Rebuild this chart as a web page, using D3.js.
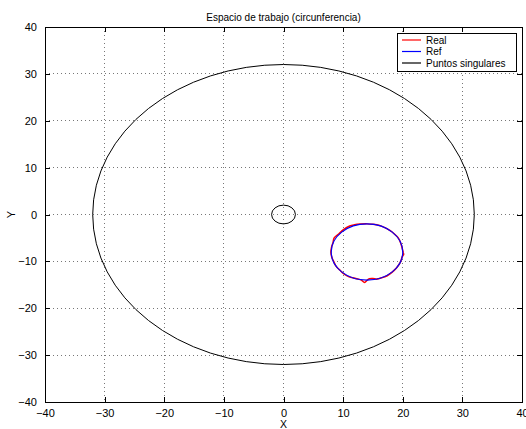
<!DOCTYPE html>
<html>
<head>
<meta charset="utf-8">
<script src="https://cdn.jsdelivr.net/npm/d3@7"></script>
<style>
  html, body { margin: 0; padding: 0; background: #fff; }
  svg { display: block; }
  text { font-family: "Liberation Sans", Arial, Helvetica, sans-serif; fill: #000; }
</style>
</head>
<body>
<svg id="chart" width="526" height="429"></svg>
<script>
// Axis ticks
const xTicks = [-40, -30, -20, -10, 0, 10, 20, 30, 40];
const yTicks = [-40, -30, -20, -10, 0, 10, 20, 30, 40];

// Measured trajectory ("Real")
const realX = [20.1, 19.85, 19.6, 19.25, 18.55, 17.9, 17.0, 16.1, 15.0, 14.0, 12.9, 11.9, 11.1, 10.0, 9.3, 8.5, 8.3, 8.05, 7.95,
               8.1, 8.45, 8.8, 9.45, 10.2, 11.0, 12.0, 13.0, 13.6, 14.0, 14.4, 15.0, 15.6, 16.05, 17.0, 17.86, 18.6, 19.2, 19.64, 19.91, 20.15, 20.1];
const realY = [-8.2, -6.9, -5.9, -5.0, -4.1, -3.45, -2.8, -2.35, -2.1, -2.0, -2.05, -2.2, -2.45, -3.3, -4.1, -5.0, -6.0, -7.0, -8.0,
               -9.1, -10.1, -11.0, -11.85, -12.75, -13.3, -13.6, -13.95, -14.5, -14.05, -13.7, -13.65, -13.8, -13.64, -13.3, -12.65, -11.86, -11.0, -10.05, -9.04, -8.5, -8.2];

// Reference trajectory ("Ref"): circle center and radius
const refCenter = [14, -8];
const refRadius = [6];

// Singular points ("Puntos singulares"): circles centred at the origin
const singCenter = [0, 0];
const singRadii = [32, 2];

const legendLabels = ["Real", "Ref", "Puntos singulares"];
const legendColors = ["#ff0000", "#0000ff", "#000000"];

const svg = d3.select("#chart");
const margin = { left: 45, top: 27, right: 4, bottom: 27 };
const W = 526, H = 429;

const x = d3.scaleLinear().domain([-40, 40]).range([margin.left, W - margin.right]);
const y = d3.scaleLinear().domain([-40, 40]).range([H - margin.bottom, margin.top]);

const fmt = d => d < 0 ? "\u2212" + Math.abs(d) : String(d);

// Dotted grid
const grid = svg.append("g");
grid.selectAll("line.gx").data(xTicks.slice(1, -1)).join("line")
  .attr("x1", d => x(d)).attr("x2", d => x(d))
  .attr("y1", y(40)).attr("y2", y(-40))
  .attr("stroke", "#777").attr("stroke-width", 1).attr("stroke-dasharray", "1,3")
  .attr("shape-rendering", "crispEdges");
grid.selectAll("line.gy").data(yTicks.slice(1, -1)).join("line")
  .attr("y1", d => y(d)).attr("y2", d => y(d))
  .attr("x1", x(-40)).attr("x2", x(40))
  .attr("stroke", "#777").attr("stroke-width", 1).attr("stroke-dasharray", "1,3")
  .attr("shape-rendering", "crispEdges");

// Axes with inward ticks on all sides
const tickLen = 5;
const axB = svg.append("g").attr("transform", `translate(0,${y(-40)})`)
  .call(d3.axisBottom(x).tickValues(xTicks).tickFormat(fmt).tickSizeInner(-tickLen).tickSizeOuter(0).tickPadding(7));
const axT = svg.append("g").attr("transform", `translate(0,${y(40)})`)
  .call(d3.axisTop(x).tickValues(xTicks).tickFormat("").tickSizeInner(-tickLen).tickSizeOuter(0));
const axL = svg.append("g").attr("transform", `translate(${x(-40)},0)`)
  .call(d3.axisLeft(y).tickValues(yTicks).tickFormat(fmt).tickSizeInner(-tickLen).tickSizeOuter(0).tickPadding(8));
const axR = svg.append("g").attr("transform", `translate(${x(40)},0)`)
  .call(d3.axisRight(y).tickValues(yTicks).tickFormat("").tickSizeInner(-tickLen).tickSizeOuter(0));
[axB, axT, axL, axR].forEach(a => {
  a.select(".domain").remove();
  a.selectAll("line").attr("stroke", "#000").attr("shape-rendering", "crispEdges");
  a.selectAll("text").attr("font-size", 11).attr("font-family", "Liberation Sans, Arial, sans-serif").attr("fill", "#000");
});

// Frame
svg.append("rect")
  .attr("x", x(-40)).attr("y", y(40))
  .attr("width", x(40) - x(-40)).attr("height", y(-40) - y(40))
  .attr("fill", "none").attr("stroke", "#000").attr("stroke-width", 1)
  .attr("shape-rendering", "crispEdges");

const plot = svg.append("g");

// Real (red)
const realPts = realX.map((v, i) => [v, realY[i]]);
plot.append("path").datum(realPts)
  .attr("d", d3.line().x(d => x(d[0])).y(d => y(d[1])).curve(d3.curveCatmullRom.alpha(0.5)))
  .attr("fill", "none").attr("stroke", legendColors[0]).attr("stroke-width", 1.5);

// Ref (blue)
plot.append("ellipse")
  .attr("cx", x(refCenter[0])).attr("cy", y(refCenter[1]))
  .attr("rx", x(refRadius[0]) - x(0)).attr("ry", y(0) - y(refRadius[0]))
  .attr("fill", "none").attr("stroke", legendColors[1]).attr("stroke-width", 1.2);

// Singular points (black)
plot.selectAll("ellipse.sing").data(singRadii).join("ellipse")
  .attr("class", "sing")
  .attr("cx", x(singCenter[0])).attr("cy", y(singCenter[1]))
  .attr("rx", r => x(r) - x(0)).attr("ry", r => y(0) - y(r))
  .attr("fill", "none").attr("stroke", legendColors[2]).attr("stroke-width", 1);

// Title and axis labels
svg.append("text").attr("x", (x(-40) + x(40)) / 2).attr("y", 21)
  .attr("text-anchor", "middle").attr("font-size", 10)
  .text("Espacio de trabajo (circunferencia)");
svg.append("text").attr("x", (x(-40) + x(40)) / 2).attr("y", 428)
  .attr("text-anchor", "middle").attr("font-size", 10.5).text("X");
svg.append("text").attr("transform", `translate(15,${y(0)}) rotate(-90)`)
  .attr("text-anchor", "middle").attr("font-size", 11).text("Y");

// Legend
const lg = svg.append("g");
lg.append("rect").attr("x", 397).attr("y", 33).attr("width", 119).attr("height", 38)
  .attr("fill", "#fff").attr("stroke", "#000").attr("stroke-width", 1)
  .attr("shape-rendering", "crispEdges");
legendLabels.forEach((lab, i) => {
  const yy = 40 + i * 11.5;
  lg.append("line").attr("x1", 402).attr("x2", 421).attr("y1", yy).attr("y2", yy)
    .attr("stroke", legendColors[i]).attr("stroke-width", 1.2);
  lg.append("text").attr("x", 426).attr("y", yy + 3.5).attr("font-size", 10).text(lab);
});
</script>
</body>
</html>
